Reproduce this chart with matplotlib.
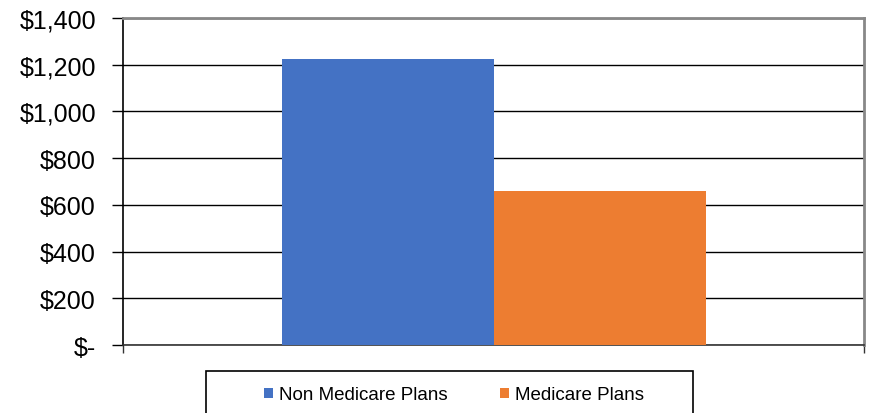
import matplotlib
matplotlib.use("Agg")
import matplotlib.pyplot as plt
from matplotlib.patches import Rectangle
import numpy as np

plt.rcParams['font.family'] = ['Liberation Sans', 'DejaVu Sans']

# data
series = ['Non Medicare Plans', 'Medicare Plans']
values = [1224, 659]
colors = ['#4472C4', '#ED7D31']
y_ticks = [0, 200, 400, 600, 800, 1000, 1200, 1400]
y_labels = ['$-', '$200', '$400', '$600', '$800', '$1,000', '$1,200', '$1,400']

fig = plt.figure(figsize=(8.71, 4.14), dpi=100)
ax = fig.add_axes([123 / 871, 1 - 346 / 414, 741 / 871, 327 / 414])

width = 212 / 741
offsets = np.array([-0.5, 0.5]) * width
for off, v, c, name in zip(offsets, values, colors, series):
    ax.bar(off, v, width=width, color=c, label=name, zorder=3)

ax.set_xlim(-0.5, 0.5)
ax.set_ylim(0, 1400)
ax.set_yticks(y_ticks)
ax.set_yticklabels(y_labels)
ax.set_xticks([-0.5, 0.5])
ax.set_xticklabels([])

ax.yaxis.grid(True, color='black', linewidth=1.0, zorder=0)
ax.set_axisbelow(True)

ax.tick_params(axis='y', direction='out', length=8, width=1, color='black',
               labelsize=18, pad=11.5)
ax.tick_params(axis='x', direction='out', length=6, width=1, color='#333333')

ax.spines['left'].set_color('black')
ax.spines['left'].set_linewidth(1.2)
ax.spines['bottom'].set_color('#333333')
ax.spines['bottom'].set_linewidth(1.2)
ax.spines['top'].set_color('#888888')
ax.spines['top'].set_linewidth(2)
ax.spines['right'].set_color('#888888')
ax.spines['right'].set_linewidth(2)

# legend box (extends past the bottom of the image)
fig.patches.append(Rectangle((206 / 871, -0.1), 487 / 871, 0.1 + (414 - 372) / 414,
                             transform=fig.transFigure, fill=False,
                             edgecolor='black', linewidth=1.2, clip_on=False))
fig.legend(loc='center', bbox_to_anchor=(454 / 871, 1 - 396 / 414), ncol=2,
           frameon=False, fontsize=13.5, handlelength=0.5, handleheight=0.5,
           handletextpad=0.3, columnspacing=2.8, borderpad=0)

fig.savefig('out.png', dpi=100)
